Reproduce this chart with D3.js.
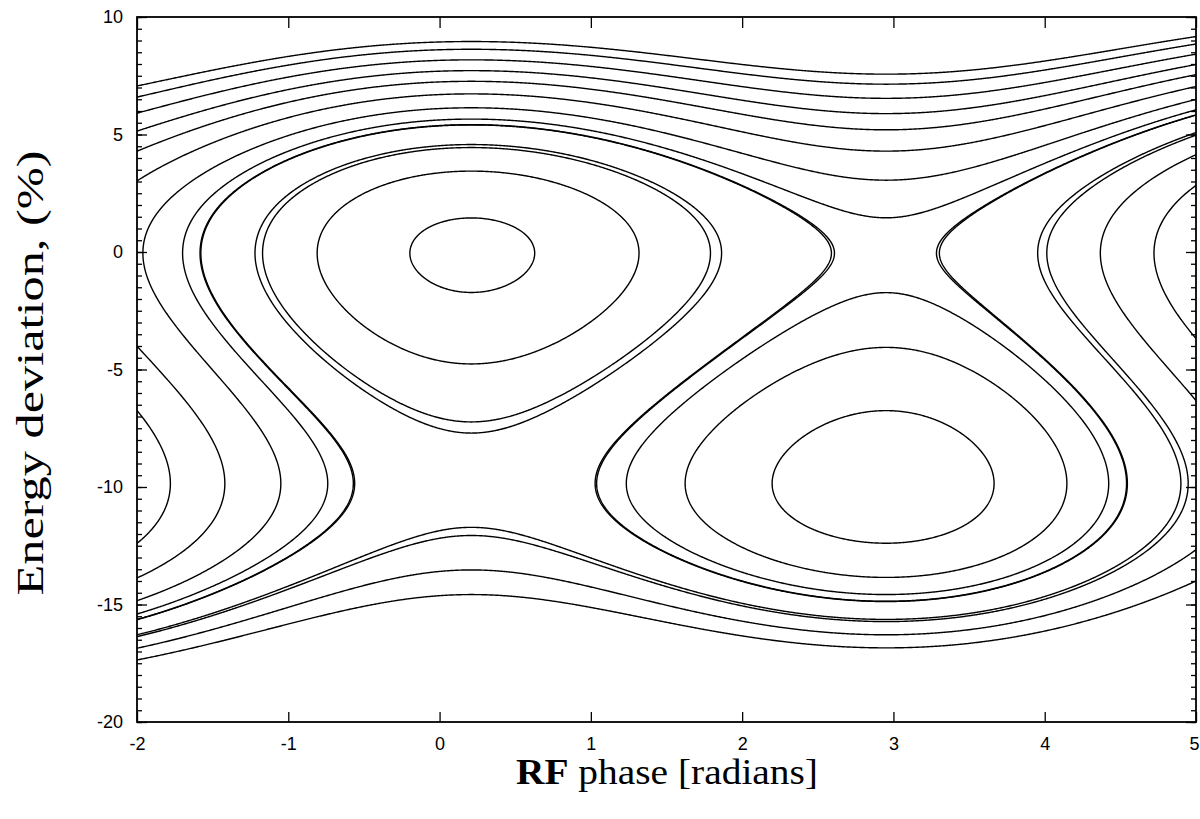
<!DOCTYPE html>
<html>
<head>
<meta charset="utf-8">
<script src="https://cdn.jsdelivr.net/npm/d3@7"></script>
<style>
  body { margin: 0; background: #fff; }
  svg { display: block; }
</style>
</head>
<body>
<svg id="chart" width="1200" height="819"></svg>
<script>
// ---- axis ranges and tick values ----
const phaseDomain = [-2, 5];
const deviationDomain = [-20, 10];
const phaseTicks = [-2, -1, 0, 1, 2, 3, 4, 5];
const deviationTicks = [-20, -15, -10, -5, 0, 5, 10];

// ---- longitudinal Hamiltonian ----
// upper and lower fixed-point energy deviations (%)
const fixedDeviations = [-0.05, -9.85];
// RF potential strength, phase offset (rad) and slope of the tilted potential
const rfAmplitude = [147.9];
const rfPhaseOffset = [0.01];
const rfSlope = [-0.199];

// ---- one point (phase, deviation) on each plotted trajectory ----
const anchorPhase     = [0.21, 0.33, -1.17, -1.22, 2.59, 2.61, -0.74, -1.05, -1.42, -1.78, 0.33, 0.33, 0.33, 0.33];
const anchorDeviation = [1.45, 3.42,  0.00,  0.00, 0.00, 0.00,  -10,   -10,   -10,   -10,  7.71, 8.17, 8.62, 8.95];

const svg = d3.select("#chart");
const plot = { left: 137, right: 1196, top: 17, bottom: 722 };

const x = d3.scaleLinear().domain(phaseDomain).range([plot.left, plot.right]);
const y = d3.scaleLinear().domain(deviationDomain).range([plot.bottom, plot.top]);

const p = fixedDeviations[0], q = fixedDeviations[1], D = p - q;
const K = rfAmplitude[0], phi0 = rfPhaseOffset[0], slope = rfSlope[0];

// phase-slip part: cubic with turning points at the two fixed energies
function energyTerm(d) { const u = d - p; return u * u * u / 3 + D * u * u / 2; }
// RF part: cosine potential tilted by the energy gain per turn
function rfTerm(f) { return K * (-Math.cos(f - phi0) + slope * f); }
function hamiltonian(f, d) { return energyTerm(d) + rfTerm(f); }

const levels = anchorPhase.map((f, i) => hamiltonian(f, anchorDeviation[i])).sort((a, b) => a - b);

// sample the Hamiltonian on a grid slightly wider than the frame,
// so contour rings never close along the visible plot edge
const fMin = -2.3, fMax = 5.3, dMin = -21, dMax = 11;
const nx = 1150, ny = 760;
const df = (fMax - fMin) / (nx - 1), dd = (dMax - dMin) / (ny - 1);
const rfCol = new Float64Array(nx);
for (let i = 0; i < nx; i++) rfCol[i] = rfTerm(fMin + i * df);
const values = new Float64Array(nx * ny);
for (let j = 0; j < ny; j++) {
  const e = energyTerm(dMax - j * dd);
  for (let i = 0; i < nx; i++) values[j * nx + i] = e + rfCol[i];
}

const contours = d3.contours().size([nx, ny]).thresholds(levels)(values);

const gridToScreen = d3.geoTransform({
  point(gx, gy) {
    this.stream.point(x(fMin + (gx - 0.5) * df), y(dMax - (gy - 0.5) * dd));
  }
});
const path = d3.geoPath(gridToScreen);

svg.append("defs").append("clipPath").attr("id", "plotClip")
  .append("rect")
  .attr("x", plot.left).attr("y", plot.top)
  .attr("width", plot.right - plot.left).attr("height", plot.bottom - plot.top);

svg.append("g")
  .attr("clip-path", "url(#plotClip)")
  .selectAll("path")
  .data(contours)
  .join("path")
  .attr("d", path)
  .attr("fill", "none")
  .attr("stroke", "#000")
  .attr("stroke-width", 1.4)
  .attr("stroke-linejoin", "round");

// ---- axes: inward ticks on all four sides ----
const fmt = d => String(d);
const minorDeviation = d3.range(deviationDomain[0], deviationDomain[1] + 0.001, 0.5);

function styleAxis(g) {
  g.select(".domain").remove();
  g.selectAll(".tick line").attr("stroke", "#000").attr("stroke-width", 1.3);
  g.selectAll("text")
    .attr("fill", "#000")
    .style("font-family", "'Liberation Sans', Arial, sans-serif")
    .style("font-size", "18px");
}

const bottomAxis = svg.append("g").attr("transform", `translate(0,${plot.bottom})`)
  .call(d3.axisBottom(x).tickValues(phaseTicks).tickSize(-10).tickPadding(15).tickFormat(fmt))
  .call(styleAxis);
// keep the last phase label inside the page edge
bottomAxis.selectAll(".tick text").filter(d => d === phaseDomain[1])
  .attr("text-anchor", "end").attr("x", 3);

svg.append("g").attr("transform", `translate(0,${plot.top})`)
  .call(d3.axisTop(x).tickValues(phaseTicks).tickSize(-11).tickFormat(""))
  .call(styleAxis);
svg.append("g").attr("transform", `translate(${plot.left},0)`)
  .call(d3.axisLeft(y).tickValues(minorDeviation).tickSize(-5).tickFormat(""))
  .call(styleAxis);
svg.append("g").attr("transform", `translate(${plot.left},0)`)
  .call(d3.axisLeft(y).tickValues(deviationTicks).tickSize(-10).tickPadding(14).tickFormat(fmt))
  .call(styleAxis);
svg.append("g").attr("transform", `translate(${plot.right},0)`)
  .call(d3.axisRight(y).tickValues(minorDeviation).tickSize(-5).tickFormat(""))
  .call(styleAxis);
svg.append("g").attr("transform", `translate(${plot.right},0)`)
  .call(d3.axisRight(y).tickValues(deviationTicks).tickSize(-10).tickFormat(""))
  .call(styleAxis);

svg.append("rect")
  .attr("x", plot.left).attr("y", plot.top)
  .attr("width", plot.right - plot.left).attr("height", plot.bottom - plot.top)
  .attr("fill", "none").attr("stroke", "#000").attr("stroke-width", 1.8);

// ---- axis titles ----
const xTitle = svg.append("text")
  .attr("x", 516).attr("y", 784)
  .attr("textLength", 302).attr("lengthAdjust", "spacingAndGlyphs")
  .style("font-family", "'Liberation Serif', 'Times New Roman', serif")
  .style("font-size", "35px")
  .attr("fill", "#000");
xTitle.append("tspan").attr("font-weight", "bold").text("RF");
xTitle.append("tspan").text(" phase [radians]");

svg.append("text")
  .attr("transform", "translate(43,373) rotate(-90)")
  .attr("text-anchor", "middle")
  .attr("textLength", 445).attr("lengthAdjust", "spacingAndGlyphs")
  .style("font-family", "'Liberation Serif', 'Times New Roman', serif")
  .style("font-size", "38px")
  .attr("fill", "#000")
  .text("Energy deviation, (%)");
</script>
</body>
</html>
